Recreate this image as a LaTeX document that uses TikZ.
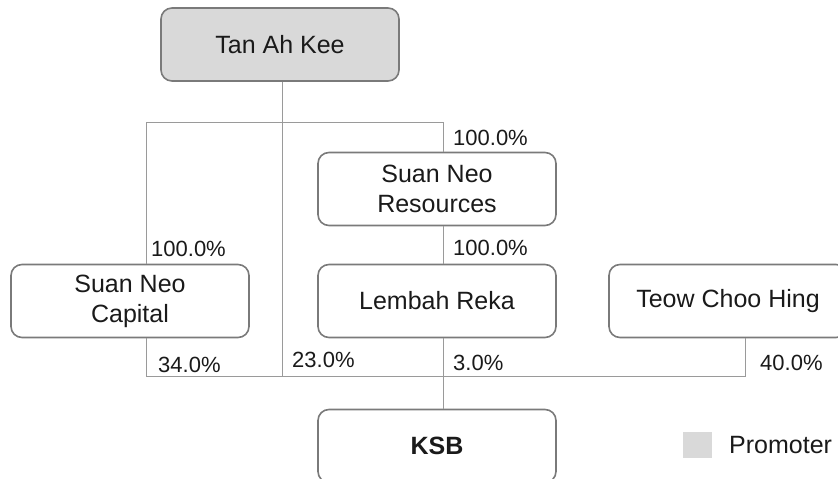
\documentclass[tikz,border=0pt]{standalone}
\usepackage{fontspec}
\setmainfont{Liberation Sans}
\usetikzlibrary{calc}
\definecolor{boxgray}{HTML}{7A7A7A}
\definecolor{linegray}{HTML}{9A9A9A}
\definecolor{promo}{HTML}{D9D9D9}
\definecolor{txt}{HTML}{1A1A1A}

\begin{document}
\begin{tikzpicture}[x=1pt,y=-1pt,
  box/.style={draw=boxgray,line width=1.6pt,rounded corners=11pt,minimum width=238pt,minimum height=73pt,align=center,text=txt,font=\fontsize{25}{30}\selectfont},
  link/.style={draw=linegray,line width=1pt},
  pct/.style={anchor=base west,inner sep=0pt,text=txt,font=\fontsize{22}{26}\selectfont}]
\clip[use as bounding box] (0,0) rectangle (838,479);

\node[box,fill=promo] (tak) at (280,44.5) {Tan Ah Kee};
\node[box] (snr) at (437,189) {Suan Neo\\Resources};
\node[box] (snc) at (130,301) {Suan Neo\\Capital};
\node[box] (lr) at (437,301) {Lembah Reka};
\node[box] (tch) at (728,301) {Teow Choo Hing};
\node[box,font=\bfseries\fontsize{25}{30}\selectfont] (ksb) at (437,446) {KSB};

\coordinate (topL) at (146,122);
\coordinate (topR) at (443,122);
\coordinate (busL) at (146,376);
\coordinate (busT) at (282,376);
\coordinate (busR) at (745,376);

\draw[link] (snc.north -| topL) -- (topL) -- (topR) -- (snr.north -| topR);
\draw[link] (tak.south -| busT) -- (busT);
\draw[link] (snr.south -| topR) -- (lr.north -| topR);
\draw[link] (lr.south -| topR) -- (ksb.north -| topR);
\draw[link] (snc.south -| busL) -- (busL) -- (busR) -- (tch.south -| busR);

\node[pct] at (453,145) {100.0\%};
\node[pct] at (151,256) {100.0\%};
\node[pct] at (453,255) {100.0\%};
\node[pct] at (158,372) {34.0\%};
\node[pct] at (292,367) {23.0\%};
\node[pct] at (453,370) {3.0\%};
\node[pct] at (760,370) {40.0\%};

\fill[promo] (683,432) rectangle (712,458);
\node[anchor=west,inner sep=0pt,text=txt,font=\fontsize{25}{30}\selectfont] (leg) at (729,445) {Promoter};
\end{tikzpicture}
\end{document}
